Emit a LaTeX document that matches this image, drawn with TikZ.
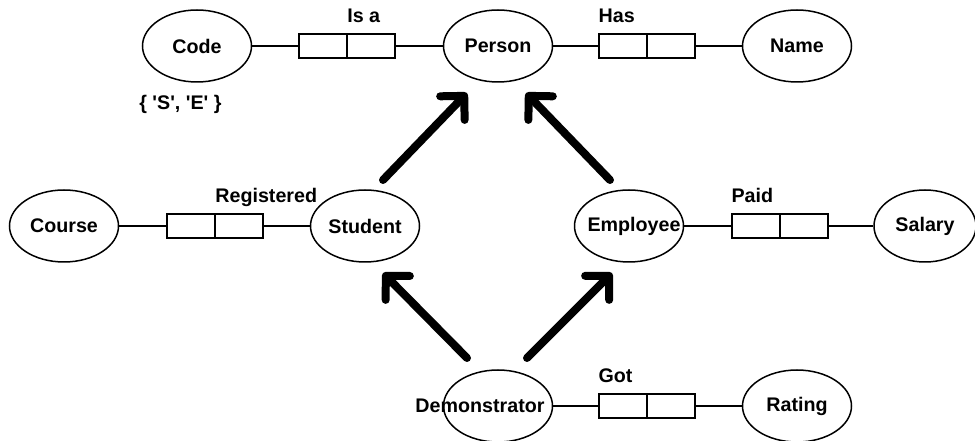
\documentclass[tikz,border=0pt]{standalone}
\usepackage{fontspec}
\setmainfont{Liberation Sans}
\usetikzlibrary{arrows.meta,shapes.geometric}
\newcommand{\ent}[1]{\makebox[0pt]{#1}}
\tikzset{entity/.style={draw, ellipse, line width=0.3mm, minimum width=21.8mm,
        minimum height=14.4mm, inner sep=0pt},
    relbox/.style={draw, line width=0.3mm, minimum width=19.2mm, minimum height=4.8mm,
        inner sep=0pt, path picture={\draw[line width=0.3mm]
        (path picture bounding box.north) -- (path picture bounding box.south);}},
    lbl/.style={anchor=base west, inner sep=0pt},
    link/.style={line width=0.3mm},
    isa/.style={line width=1.6mm, line cap=round,
        -{Straight Barb[length=3.4mm, width=6.8mm, round]}}}

\begin{document}
\begin{tikzpicture}[x=0.2mm, y=-0.2mm, font=\fontsize{11.2}{13}\selectfont\bfseries]
    \useasboundingbox (0,0) rectangle (975,441);
    % top row
    \node[entity] (code) at (197,46) {\ent{Code}};
    \node[relbox] (isa) at (347,46) {};
    \node[entity] (person) at (498,46) {\ent{Person}};
    \node[relbox] (has) at (647,46) {};
    \node[entity] (name) at (797,46) {\ent{Name}};
    \node[anchor=base west, inner sep=0pt] (codeset) at (139,110)
        {\{ \textquotesingle S\textquotesingle, \textquotesingle E\textquotesingle\ \}};
    % middle row
    \node[entity] (course) at (64,226) {\ent{Course}};
    \node[relbox] (reg) at (215,226) {};
    \node[entity] (student) at (365,226) {\ent{Student}};
    \node[entity] (employee) at (629,226) {\ent{\kern2mm Employee}};
    \node[relbox] (paid) at (780,226) {};
    \node[entity, minimum width=20.4mm] (salary) at (925,226) {\ent{Salary}};
    % bottom row, text sits left of centre
    \node[entity] (demo) at (498,406) {\ent{\kern-7.2mm Demonstrator}};
    \node[relbox] (got) at (647,406) {};
    \node[entity] (rating) at (797,406) {\ent{Rating}};
    % relationship names
    \node[lbl] (isalbl) at ([yshift=2.2mm]isa.north) {Is a};
    \node[lbl] (haslbl) at ([yshift=2.2mm]has.north west) {Has};
    \node[lbl] (reglbl) at ([yshift=2.2mm]reg.north) {Registered};
    \node[lbl] (paidlbl) at ([yshift=2.2mm]paid.north west) {Paid};
    \node[lbl] (gotlbl) at ([yshift=2.2mm]got.north west) {Got};
    % links
    \draw[link] (code) -- (isa) -- (person);
    \draw[link] (person) -- (has) -- (name);
    \draw[link] (course) -- (reg) -- (student);
    \draw[link] (employee) -- (paid) -- (salary);
    \draw[link] (demo) -- (got) -- (rating);
    % subtype arrows
    \coordinate (s1) at (383,180);
    \coordinate (p1) at (467,93);
    \coordinate (e1) at (610,180);
    \coordinate (p2) at (526,93);
    \coordinate (d1) at (467,358);
    \coordinate (s2) at (383,273);
    \coordinate (d2) at (527,358);
    \coordinate (e2) at (612,273);
    \draw[isa] (s1) -- (p1);
    \draw[isa] (e1) -- (p2);
    \draw[isa] (d1) -- (s2);
    \draw[isa] (d2) -- (e2);
\end{tikzpicture}
\end{document}
